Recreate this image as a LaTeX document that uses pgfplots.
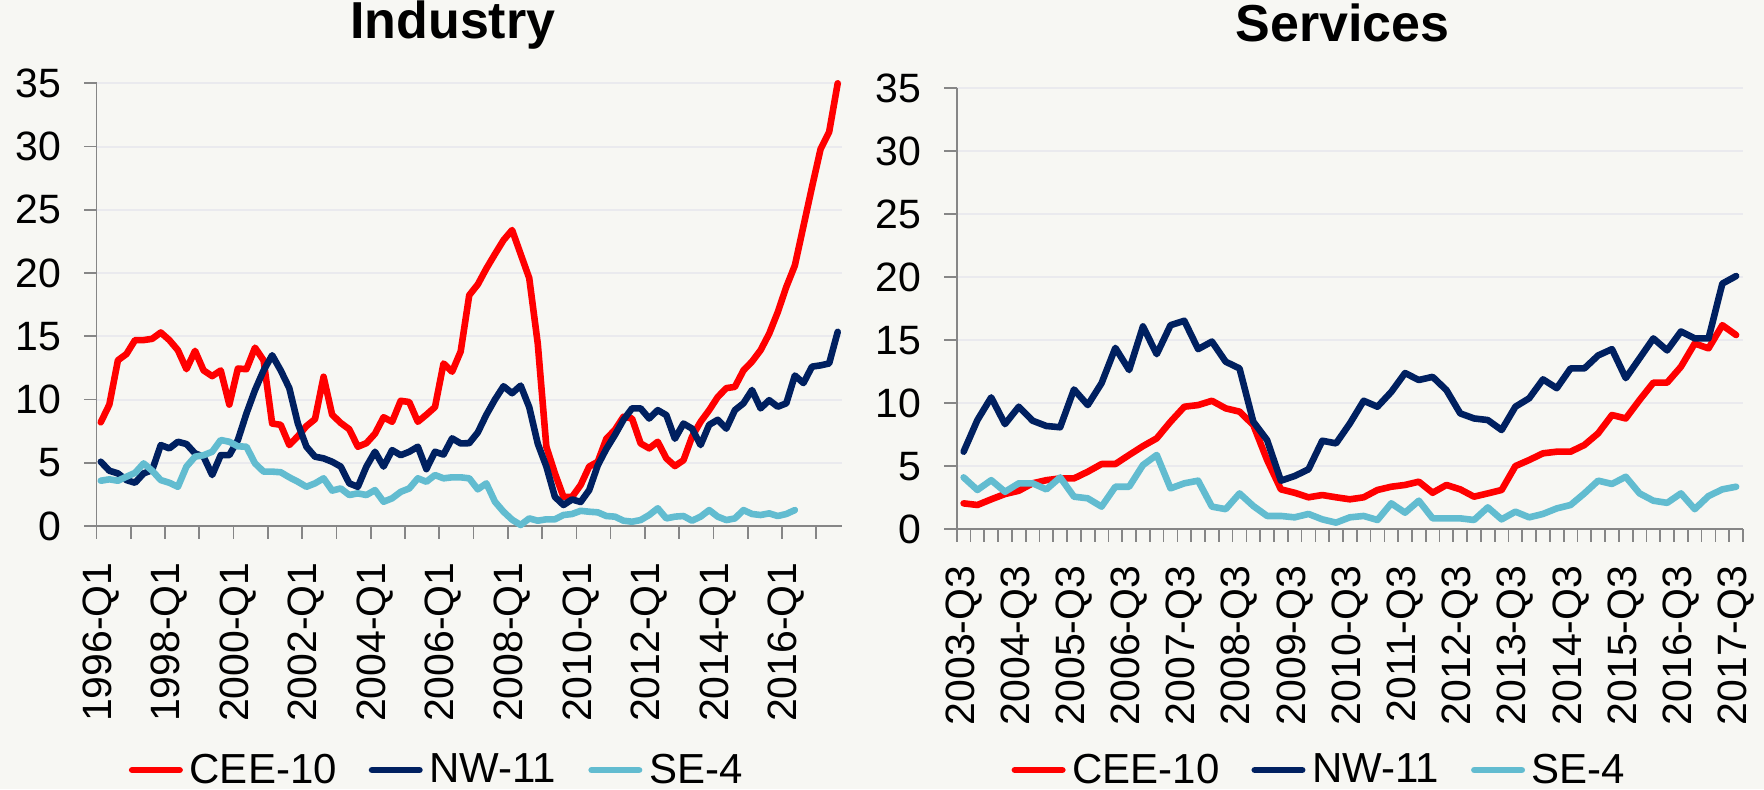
\documentclass[border=0pt]{standalone}
\usepackage{pgfplots}
\pgfplotsset{compat=1.18}
\usepackage{pgfplotstable}
\usepackage{fontspec}
\setmainfont{Liberation Sans}

\definecolor{cee}{RGB}{255,0,0}
\definecolor{nw}{RGB}{0,32,96}
\definecolor{se}{RGB}{98,188,208}
\definecolor{bg}{RGB}{247,247,243}
\definecolor{gridc}{RGB}{234,234,238}
\definecolor{axc}{RGB}{134,134,134}

% Industry, 1996-Q1 ... 2017-Q3 (i = quarter index)
\pgfplotstableread{
i cee nw se
0 8.2 5.08 3.58
1 9.6 4.37 3.69
2 13.1 4.16 3.58
3 13.6 3.63 3.9
4 14.7 3.42 4.2
5 14.7 4.16 4.95
6 14.8 4.42 4.37
7 15.3 6.4 3.63
8 14.7 6.14 3.42
9 13.9 6.66 3.1
10 12.4 6.48 4.7
11 13.85 5.74 5.48
12 12.3 5.48 5.6
13 11.85 4.03 5.87
14 12.3 5.6 6.8
15 9.6 5.6 6.66
16 12.45 6.8 6.3
17 12.4 8.9 6.27
18 14.1 10.75 4.95
19 13.1 12.3 4.3
20 8.1 13.5 4.3
21 8.0 12.3 4.25
22 6.4 10.9 3.85
23 7.1 8.1 3.5
24 7.9 6.27 3.1
25 8.45 5.48 3.37
26 11.8 5.35 3.77
27 8.8 5.08 2.8
28 8.15 4.7 2.97
29 7.65 3.37 2.45
30 6.27 3.1 2.58
31 6.55 4.7 2.45
32 7.3 5.87 2.84
33 8.6 4.7 1.92
34 8.24 6.0 2.19
35 9.9 5.6 2.7
36 9.8 5.87 2.97
37 8.24 6.27 3.77
38 8.8 4.5 3.5
39 9.4 5.87 4.03
40 12.85 5.65 3.77
41 12.2 6.93 3.85
42 13.8 6.53 3.85
43 18.25 6.55 3.77
44 19.1 7.4 2.9
45 20.36 8.8 3.37
46 21.5 10.0 1.92
47 22.6 11.05 1.13
48 23.4 10.5 0.5
49 21.5 11.1 0.08
50 19.6 9.4 0.6
51 14.4 6.5 0.42
52 6.27 4.7 0.53
53 4.16 2.3 0.53
54 2.3 1.66 0.87
55 2.3 2.1 0.95
56 3.24 1.9 1.2
57 4.7 2.84 1.13
58 5.08 4.8 1.08
59 6.9 6.1 0.79
60 7.6 7.2 0.74
61 8.64 8.4 0.42
62 8.5 9.3 0.34
63 6.53 9.3 0.47
64 6.14 8.5 0.87
65 6.66 9.16 1.4
66 5.35 8.77 0.6
67 4.74 6.9 0.74
68 5.2 8.1 0.79
69 7.06 7.7 0.42
70 8.24 6.4 0.74
71 9.16 8.0 1.26
72 10.2 8.4 0.74
73 10.9 7.7 0.47
74 11.0 9.16 0.6
75 12.3 9.7 1.26
76 13.0 10.75 0.95
77 13.9 9.3 0.87
78 15.2 9.95 1.0
79 16.9 9.43 0.79
80 18.9 9.7 0.95
81 20.6 11.9 1.26
82 23.7 11.3 nan
83 26.8 12.6 nan
84 29.8 12.7 nan
85 31.15 12.85 nan
86 35.0 15.35 nan
}\industry

% Services, 2003-Q3 ... 2017-Q3
\pgfplotstableread{
i cee nw se
0 2.06 6.16 4.12
1 1.93 8.67 3.12
2 2.38 10.47 3.9
3 2.8 8.35 2.98
4 3.06 9.73 3.65
5 3.65 8.62 3.65
6 3.9 8.2 3.17
7 4.04 8.1 4.12
8 4.04 11.1 2.59
9 4.57 9.86 2.46
10 5.18 11.6 1.8
11 5.18 14.4 3.38
12 5.9 12.64 3.38
13 6.6 16.1 5.1
14 7.22 13.9 5.9
15 8.54 16.2 3.25
16 9.73 16.55 3.65
17 9.86 14.3 3.86
18 10.2 14.9 1.8
19 9.6 13.3 1.6
20 9.34 12.77 2.85
21 8.28 8.54 1.85
22 5.5 7.08 1.06
23 3.17 3.86 1.06
24 2.9 4.23 0.95
25 2.54 4.76 1.22
26 2.72 7.03 0.79
27 2.54 6.82 0.53
28 2.38 8.4 0.95
29 2.54 10.2 1.06
30 3.12 9.73 0.74
31 3.38 10.9 2.06
32 3.52 12.4 1.32
33 3.78 11.85 2.27
34 2.9 12.1 0.87
35 3.52 11.05 0.87
36 3.17 9.2 0.87
37 2.59 8.8 0.74
38 2.85 8.67 1.74
39 3.12 7.88 0.79
40 5.02 9.73 1.4
41 5.5 10.4 0.95
42 6.03 11.9 1.22
43 6.16 11.2 1.66
44 6.16 12.77 1.93
45 6.69 12.77 2.85
46 7.62 13.8 3.86
47 9.07 14.3 3.6
48 8.8 12.0 4.17
49 10.26 13.57 2.85
50 11.64 15.15 2.27
51 11.64 14.2 2.1
52 12.9 15.7 2.85
53 14.75 15.15 1.6
54 14.36 15.15 2.64
55 16.2 19.5 3.17
56 15.42 20.1 3.38
}\services

\pgfplotsset{
  panel/.style={
    scale only axis,
    anchor=south west,
    ymin=0, ymax=35, ytick={0,5,...,35},
    axis x line*=bottom, axis y line*=left,
    axis line style={axc, line width=0.85pt, -},
    tick style={axc, line width=0.85pt},
    tick align=outside,
    major tick length=6.25pt,
    ymajorgrids,
    grid style={gridc, line width=1pt},
    clip=false,
    tick label style={font=\fontsize{20.5}{24}\selectfont, inner sep=0pt},
    /pgf/number format/assume math mode=true,
    yticklabel style={anchor=east},
    yticklabel shift=11.3pt,
    xticklabels={},
    extra x tick style={major tick length=0pt},
    extra x tick style={xticklabel style={rotate=90, anchor=east}},
    xticklabel shift=18pt,
    title style={font=\bfseries\fontsize{26}{30}\selectfont, anchor=base, inner sep=0pt},
    legend columns=3,
    legend image code/.code={\draw[#1, line width=3.3pt, line cap=round] (1.65pt,0pt) -- (25.35pt,0pt);},
    legend style={draw=none, fill=none, inner sep=0pt, anchor=west,
      font=\fontsize{21}{24}\selectfont,
      nodes={inner sep=0pt},
      /tikz/every odd column/.append style={column sep=3.4pt},
      /tikz/every even column/.append style={column sep=16pt}},
    every axis plot/.append style={line width=3.3pt, line join=round, line cap=round},
  },
}

\begin{document}
\begin{tikzpicture}
\fill[bg] (0,0) rectangle (882pt,394.5pt);
\path[use as bounding box] (0,0) rectangle (882pt,394.5pt);

\begin{axis}[panel,
  at={(48.25pt,131.5pt)},
  width=372.75pt, height=221.35pt,
  xmin=-0.5, xmax=86.5,
  xtick={-0.5,3.5,...,83.5},
  extra x ticks={0,8,...,80},
  extra x tick labels={1996-Q1,1998-Q1,2000-Q1,2002-Q1,2004-Q1,2006-Q1,2008-Q1,2010-Q1,2012-Q1,2014-Q1,2016-Q1},
  title={Industry},
  title style={at={(0.478,1)}, yshift=16.2pt},
  legend style={at={(0.0429,-0.5512)}},
]
\addplot[cee] table[x=i, y=cee] {\industry};
\addplot[nw] table[x=i, y=nw] {\industry};
\addplot[se] table[x=i, y=se] {\industry};
\legend{CEE-10, NW-11, SE-4}
\end{axis}

\begin{axis}[panel,
  at={(478.35pt,129.85pt)},
  width=393.15pt, height=220.5pt,
  xmin=-0.5, xmax=56.5,
  xtick={-0.5,0.5,...,56.5},
  extra x ticks={0,4,...,56},
  extra x tick labels={2003-Q3,2004-Q3,2005-Q3,2006-Q3,2007-Q3,2008-Q3,2009-Q3,2010-Q3,2011-Q3,2012-Q3,2013-Q3,2014-Q3,2015-Q3,2016-Q3,2017-Q3},
  title={Services},
  title style={at={(0.491,1)}, yshift=17.6pt},
  legend style={at={(0.0693,-0.5458)}},
]
\addplot[cee] table[x=i, y=cee] {\services};
\addplot[nw] table[x=i, y=nw] {\services};
\addplot[se] table[x=i, y=se] {\services};
\legend{CEE-10, NW-11, SE-4}
\end{axis}
\end{tikzpicture}
\end{document}
